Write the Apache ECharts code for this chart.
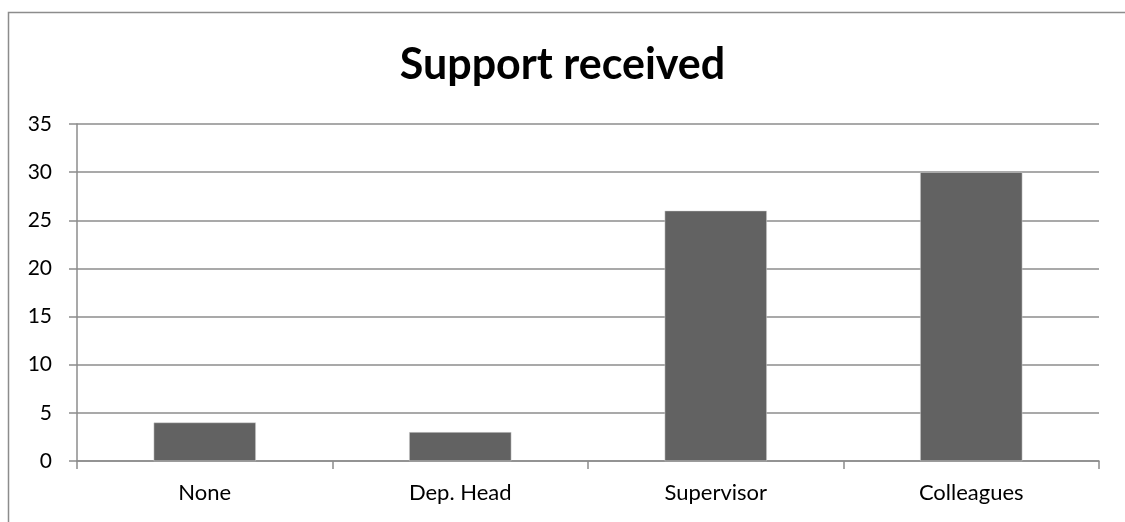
<!DOCTYPE html>
<html>
<head>
<meta charset="utf-8">
<script src="https://cdn.jsdelivr.net/npm/echarts@6/dist/echarts.min.js"></script>
<style>
  html, body { margin: 0; padding: 0; background: #fff; }
  #chart { width: 1125px; height: 522px; }
</style>
</head>
<body>
<div id="chart"></div>
<script>
const titleText = 'Support received';
const categories = ['None', 'Dep. Head', 'Supervisor', 'Colleagues'];
const values = [4, 3, 26, 30];
const yMin = 0, yMax = 35, yStep = 5;

const fontFamily = 'Lato, "Open Sans", sans-serif';
const gridColor = '#8c8c8c';

const chart = echarts.init(document.getElementById('chart'), null, { renderer: 'canvas' });
chart.setOption({
  animation: false,
  backgroundColor: '#ffffff',
  graphic: [{
    type: 'rect',
    shape: { x: 8.5, y: 12.5, width: 1300, height: 700 },
    style: { fill: 'none', stroke: '#8c8c8c', lineWidth: 1.5 },
    silent: true,
    z: 0
  }],
  title: {
    text: titleText,
    left: 'center',
    top: 39,
    textStyle: { fontFamily: fontFamily, fontWeight: 'bold', fontSize: 43, color: '#000' }
  },
  grid: { left: 77, right: 26, top: 124, bottom: 61, containLabel: false },
  xAxis: {
    type: 'category',
    data: categories,
    axisLine: { show: true, lineStyle: { color: gridColor, width: 1.5 } },
    axisTick: { show: true, length: 8, alignWithLabel: false, lineStyle: { color: gridColor, width: 1.5 } },
    axisLabel: { color: '#000', fontFamily: fontFamily, fontSize: 22, margin: 21 },
    splitLine: { show: false }
  },
  yAxis: {
    type: 'value',
    min: yMin, max: yMax, interval: yStep,
    axisLine: { show: true, lineStyle: { color: gridColor, width: 1.5 } },
    axisTick: { show: true, length: 8, lineStyle: { color: gridColor, width: 1.5 } },
    axisLabel: { color: '#000', fontFamily: fontFamily, fontSize: 21, margin: 25 },
    splitLine: { show: true, lineStyle: { color: gridColor, width: 1.5 } }
  },
  series: [{
    type: 'bar',
    data: values,
    barWidth: '40%',
    itemStyle: { color: '#626262', borderColor: '#d8d8d8', borderWidth: 0.5 }
  }]
});
</script>
</body>
</html>
